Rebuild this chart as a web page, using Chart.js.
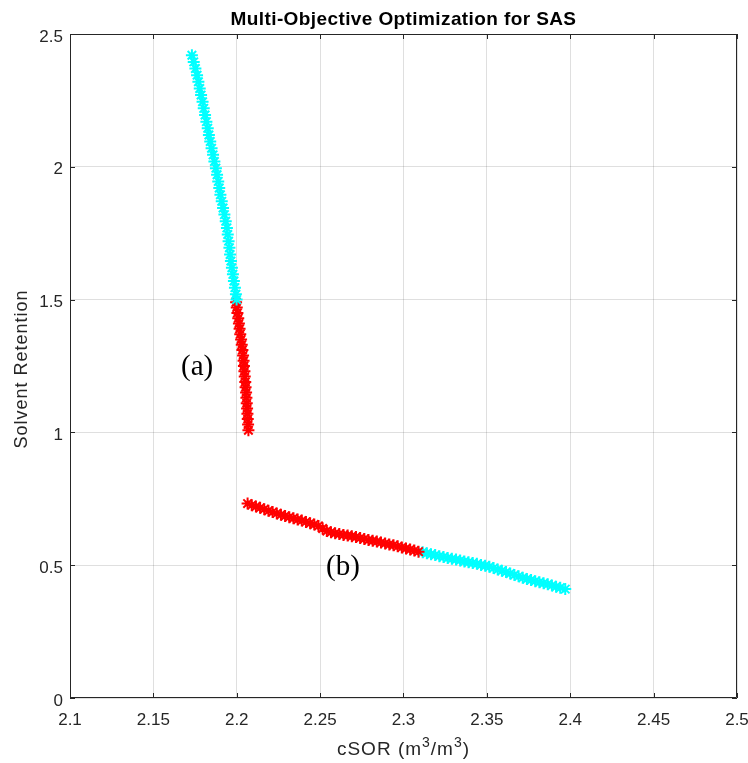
<!DOCTYPE html>
<html>
<head>
<meta charset="utf-8">
<title>Multi-Objective Optimization for SAS</title>
<script src="https://cdn.jsdelivr.net/npm/chart.js@4.4.1/dist/chart.umd.min.js"></script>
<style>
    html, body { margin: 0; padding: 0; background: #fff; }
    #wrap { width: 748px; height: 763px; position: relative; }
</style>
</head>
<body>
<div id="wrap"><canvas id="pareto"></canvas></div>
<script>
// Pareto front (a): cSOR vs solvent retention
const frontA_cyan_x = [2.1731, 2.1742, 2.1752, 2.1762, 2.1770, 2.1778, 2.1786, 2.1795, 2.1802, 2.1810,
    2.1818, 2.1826, 2.1833, 2.1841, 2.1849, 2.1858, 2.1866, 2.1875, 2.1882, 2.1889,
    2.1895, 2.1902, 2.1910, 2.1918, 2.1926, 2.1934, 2.1941, 2.1946, 2.1951, 2.1956,
    2.1960, 2.1965, 2.1971, 2.1977, 2.1983, 2.1989, 2.1995, 2.1999];
const frontA_cyan_y = [2.420, 2.395, 2.370, 2.345, 2.320, 2.295, 2.270, 2.245, 2.220, 2.195,
    2.170, 2.145, 2.120, 2.095, 2.070, 2.045, 2.020, 1.995, 1.970, 1.945,
    1.920, 1.895, 1.870, 1.845, 1.820, 1.795, 1.770, 1.745, 1.720, 1.695,
    1.670, 1.645, 1.620, 1.595, 1.570, 1.545, 1.520, 1.500];

const frontA_red_x = [2.1996, 2.2000, 2.2004, 2.2009, 2.2013, 2.2017, 2.2021, 2.2026, 2.2030, 2.2034,
    2.2038, 2.2041, 2.2043, 2.2046, 2.2048, 2.2051, 2.2053, 2.2056, 2.2058, 2.2060,
    2.2062, 2.2064, 2.2066, 2.2068, 2.2070];
const frontA_red_y = [1.490, 1.470, 1.450, 1.430, 1.410, 1.390, 1.370, 1.350, 1.330, 1.310,
    1.290, 1.270, 1.250, 1.230, 1.210, 1.190, 1.170, 1.150, 1.130, 1.110,
    1.090, 1.070, 1.050, 1.030, 1.008];

// Pareto front (b)
const frontB_red_x = [2.2065, 2.2090, 2.2115, 2.2140, 2.2165, 2.2190, 2.2215, 2.2240, 2.2265, 2.2290,
    2.2315, 2.2340, 2.2365, 2.2390, 2.2415, 2.2440, 2.2465, 2.2490, 2.2515, 2.2540,
    2.2565, 2.2590, 2.2615, 2.2640, 2.2665, 2.2690, 2.2715, 2.2740, 2.2765, 2.2790,
    2.2815, 2.2840, 2.2865, 2.2890, 2.2915, 2.2940, 2.2965, 2.2990, 2.3015, 2.3040,
    2.3065, 2.3090];
const frontB_red_y = [0.732, 0.726, 0.721, 0.716, 0.711, 0.705, 0.700, 0.695, 0.690, 0.685,
    0.681, 0.677, 0.672, 0.668, 0.663, 0.658, 0.653, 0.648, 0.638, 0.629,
    0.624, 0.620, 0.617, 0.614, 0.612, 0.609, 0.606, 0.602, 0.599, 0.595,
    0.592, 0.589, 0.585, 0.582, 0.578, 0.575, 0.571, 0.567, 0.563, 0.559,
    0.555, 0.551];

const frontB_cyan_x = [2.3115, 2.3140, 2.3165, 2.3190, 2.3215, 2.3240, 2.3265, 2.3290, 2.3315, 2.3340,
    2.3365, 2.3390, 2.3415, 2.3440, 2.3465, 2.3490, 2.3515, 2.3540, 2.3565, 2.3590,
    2.3615, 2.3640, 2.3665, 2.3690, 2.3715, 2.3740, 2.3765, 2.3790, 2.3815, 2.3840,
    2.3865, 2.3890, 2.3915, 2.3940, 2.3970];
const frontB_cyan_y = [0.549, 0.545, 0.541, 0.538, 0.534, 0.531, 0.527, 0.524, 0.521, 0.518,
    0.514, 0.511, 0.508, 0.505, 0.501, 0.498, 0.494, 0.489, 0.484, 0.479,
    0.474, 0.469, 0.463, 0.458, 0.453, 0.448, 0.444, 0.440, 0.436, 0.432,
    0.428, 0.424, 0.419, 0.415, 0.410];

const xTicks = [2.1, 2.15, 2.2, 2.25, 2.3, 2.35, 2.4, 2.45, 2.5];
const xTickLabels = ['2.1', '2.15', '2.2', '2.25', '2.3', '2.35', '2.4', '2.45', '2.5'];
const yTicks = [0, 0.5, 1, 1.5, 2, 2.5];
const yTickLabels = ['0', '0.5', '1', '1.5', '2', '2.5'];

// curve tags, placed in data units
const tags = [
    { text: '(a)', x: 2.1762, y: 1.243 },
    { text: '(b)', x: 2.2637, y: 0.490 }
];

const AXIS_COLOR = '#262626';
const GRID_COLOR = 'rgba(38, 38, 38, 0.15)';
const SANS = '"Liberation Sans", Arial, Helvetica, sans-serif';

function toPoints(xs, ys) {
    return xs.map((x, i) => ({ x: x, y: ys[i] }));
}

function starSet(label, xs, ys, color) {
    return {
        label: label,
        data: toPoints(xs, ys),
        pointStyle: 'star',
        pointRadius: 6,
        pointBorderWidth: 2,
        borderColor: color,
        backgroundColor: color,
        showLine: false
    };
}

/**
 * MATLAB-like frame: box, inward ticks, title, axis labels and tags
 */
const framePlugin = {
    id: 'frame',
    afterDraw(chart) {
        const ctx = chart.ctx;
        const area = chart.chartArea;
        const xs = chart.scales.x;
        const ys = chart.scales.y;
        const tick = 5;

        ctx.save();
        ctx.strokeStyle = AXIS_COLOR;
        ctx.lineWidth = 1;
        ctx.beginPath();
        ctx.rect(Math.round(area.left) + 0.5, Math.round(area.top) + 0.5,
            Math.round(area.right - area.left) - 1, Math.round(area.bottom - area.top) - 1);
        xTicks.forEach(v => {
            const px = Math.round(xs.getPixelForValue(v)) + 0.5;
            ctx.moveTo(px, area.bottom);
            ctx.lineTo(px, area.bottom - tick);
            ctx.moveTo(px, area.top);
            ctx.lineTo(px, area.top + tick);
        });
        yTicks.forEach(v => {
            const py = Math.round(ys.getPixelForValue(v)) + 0.5;
            ctx.moveTo(area.left, py);
            ctx.lineTo(area.left + tick, py);
            ctx.moveTo(area.right, py);
            ctx.lineTo(area.right - tick, py);
        });
        ctx.stroke();

        const cx = (area.left + area.right) / 2;

        // title
        ctx.fillStyle = '#000';
        ctx.font = 'bold 19px ' + SANS;
        ctx.letterSpacing = '0.4px';
        ctx.textAlign = 'center';
        ctx.textBaseline = 'alphabetic';
        ctx.fillText('Multi-Objective Optimization for SAS', cx, 25);

        // y axis label
        ctx.fillStyle = AXIS_COLOR;
        ctx.font = '18px ' + SANS;
        ctx.letterSpacing = '1px';
        ctx.save();
        ctx.translate(27, (area.top + area.bottom) / 2 + 3);
        ctx.rotate(-Math.PI / 2);
        ctx.fillText('Solvent Retention', 0, 0);
        ctx.restore();

        // x axis label with superscripts
        const parts = [
            { t: 'cSOR (m', sup: false },
            { t: '3', sup: true },
            { t: '/m', sup: false },
            { t: '3', sup: true },
            { t: ')', sup: false }
        ];
        const bigFont = '19px ' + SANS;
        const supFont = '14px ' + SANS;
        let total = 0;
        parts.forEach(p => {
            ctx.font = p.sup ? supFont : bigFont;
            p.w = ctx.measureText(p.t).width;
            total += p.w;
        });
        let lx = cx - total / 2;
        ctx.textAlign = 'left';
        parts.forEach(p => {
            ctx.font = p.sup ? supFont : bigFont;
            ctx.fillText(p.t, lx, p.sup ? 747 : 755);
            lx += p.w;
        });
        ctx.letterSpacing = '0px';

        // curve tags
        ctx.fillStyle = '#000';
        ctx.font = '29px "Liberation Serif", "Times New Roman", serif';
        ctx.textAlign = 'center';
        ctx.textBaseline = 'middle';
        tags.forEach(t => {
            ctx.fillText(t.text, xs.getPixelForValue(t.x), ys.getPixelForValue(t.y));
        });
        ctx.restore();
    }
};

function createParetoChart(canvasId) {
    const ctx = document.getElementById(canvasId);
    if (!ctx) {
        console.error('canvas not found:', canvasId);
        return null;
    }

    return new Chart(ctx, {
        type: 'scatter',
        data: {
            datasets: [
                starSet('front a (cyan)', frontA_cyan_x, frontA_cyan_y, '#00ffff'),
                starSet('front a (red)', frontA_red_x, frontA_red_y, '#ff0000'),
                starSet('front b (red)', frontB_red_x, frontB_red_y, '#ff0000'),
                starSet('front b (cyan)', frontB_cyan_x, frontB_cyan_y, '#00ffff')
            ]
        },
        options: {
            responsive: true,
            maintainAspectRatio: false,
            animation: false,
            layout: {
                padding: { top: 34, right: 11, left: 0, bottom: 0 }
            },
            plugins: {
                legend: { display: false },
                tooltip: { enabled: false },
                title: { display: false }
            },
            scales: {
                x: {
                    type: 'linear',
                    min: 2.1,
                    max: 2.5,
                    afterBuildTicks: scale => {
                        scale.ticks = xTicks.map(v => ({ value: v }));
                    },
                    afterFit: scale => {
                        scale.height = 65;
                        scale.paddingLeft = 0;
                        scale.paddingRight = 0;
                    },
                    grid: {
                        color: GRID_COLOR,
                        drawTicks: false
                    },
                    border: { display: false },
                    ticks: {
                        padding: 12,
                        color: AXIS_COLOR,
                        maxRotation: 0,
                        font: { family: SANS, size: 17 },
                        callback: (value, index) => xTickLabels[index]
                    }
                },
                y: {
                    type: 'linear',
                    min: 0,
                    max: 2.5,
                    afterBuildTicks: scale => {
                        scale.ticks = yTicks.map(v => ({ value: v }));
                    },
                    afterFit: scale => {
                        scale.width = 70;
                        scale.paddingTop = 0;
                        scale.paddingBottom = 0;
                    },
                    grid: {
                        color: GRID_COLOR,
                        drawTicks: false
                    },
                    border: { display: false },
                    ticks: {
                        padding: 7,
                        labelOffset: 3,
                        color: AXIS_COLOR,
                        font: { family: SANS, size: 17 },
                        callback: (value, index) => yTickLabels[index]
                    }
                }
            }
        },
        plugins: [framePlugin]
    });
}

createParetoChart('pareto');
</script>
</body>
</html>
